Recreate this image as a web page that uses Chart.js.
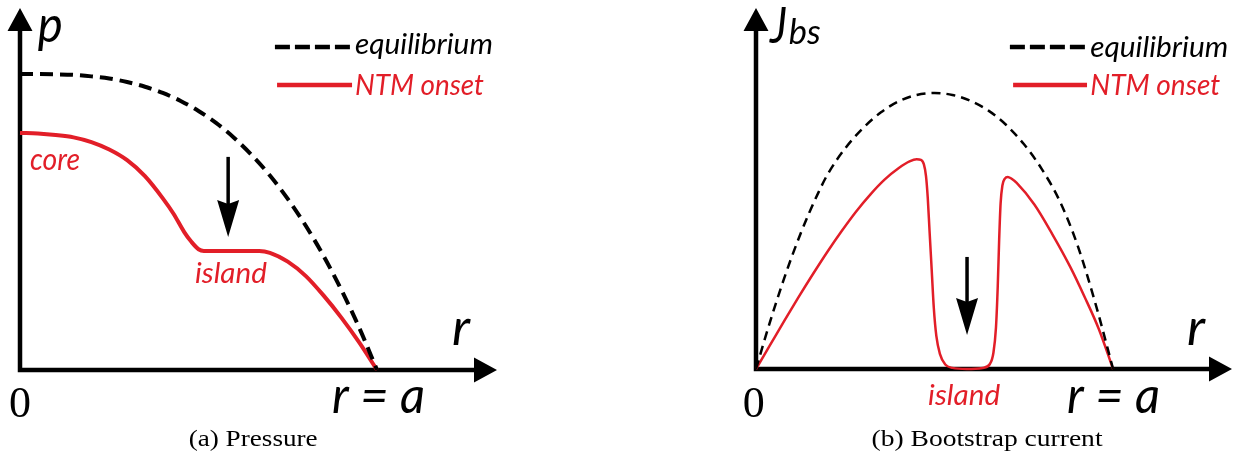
<!DOCTYPE html>
<html>
<head>
<meta charset="utf-8">
<script src="https://cdn.jsdelivr.net/npm/chart.js@4.4.1/dist/chart.umd.min.js"></script>
<style>
  body { margin: 0; background: #fff; }
  .panel { position: absolute; top: 0; width: 621px; height: 456px; }
</style>
</head>
<body>
<div class="panel" style="left:0"><canvas id="pressureChart"></canvas></div>
<div class="panel" style="left:621px"><canvas id="bootstrapChart"></canvas></div>
<script>
// Perfis radiais normalizados (r/a) - pressão e corrente de bootstrap
const RED = "#e21e28"

// (a) pressão
const pEqR = [0, 0.05, 0.1, 0.15, 0.2, 0.25, 0.3, 0.35, 0.4, 0.45, 0.5, 0.55, 0.6, 0.65, 0.7, 0.75, 0.8, 0.85, 0.9, 0.95, 1.0]
const pEq = [1.0, 1.0, 0.999, 0.997, 0.992, 0.985, 0.973, 0.957, 0.936, 0.909, 0.875, 0.834, 0.784, 0.725, 0.657,
  0.578, 0.488, 0.386, 0.271, 0.143, 0]
const pNtmR = [0, 0.05, 0.1, 0.15, 0.2, 0.25, 0.3, 0.35, 0.4, 0.43, 0.46, 0.48, 0.5, 0.515, 0.67, 0.7, 0.75, 0.8,
  0.85, 0.9, 0.95, 1.0]
const pNtm = [0.801, 0.799, 0.794, 0.786, 0.77, 0.745, 0.709, 0.655, 0.58, 0.528, 0.466, 0.433, 0.408, 0.402, 0.402,
  0.396, 0.366, 0.318, 0.252, 0.177, 0.093, 0]

// (b) corrente de bootstrap
const jEqR = [0, 0.025, 0.05, 0.075, 0.1, 0.125, 0.15, 0.175, 0.2, 0.25, 0.3, 0.35, 0.4, 0.45, 0.5, 0.55, 0.6, 0.65,
  0.7, 0.75, 0.8, 0.85, 0.9, 0.95, 1.0]
const jEq = [0, 0.11, 0.215, 0.314, 0.406, 0.491, 0.569, 0.64, 0.704, 0.8, 0.873, 0.93, 0.97, 0.993, 1.0, 0.993,
  0.972, 0.937, 0.885, 0.815, 0.725, 0.61, 0.45, 0.24, 0]
const jNtmR = [0, 0.04, 0.08, 0.12, 0.16, 0.2, 0.24, 0.28, 0.32, 0.36, 0.4, 0.43, 0.45, 0.462, 0.47, 0.476, 0.481,
  0.486, 0.492, 0.498, 0.505, 0.515, 0.53, 0.55, 0.59, 0.635, 0.655, 0.665, 0.672, 0.677, 0.681, 0.685, 0.69,
  0.697, 0.705, 0.715, 0.73, 0.78, 0.83, 0.88, 0.92, 0.96, 1.0]
const jNtm = [0, 0.088, 0.176, 0.262, 0.345, 0.425, 0.5, 0.57, 0.632, 0.686, 0.728, 0.752, 0.76, 0.758, 0.742,
  0.7, 0.62, 0.5, 0.36, 0.22, 0.12, 0.055, 0.016, 0.004, 0, 0.004, 0.018, 0.06, 0.15, 0.3, 0.47, 0.6, 0.665,
  0.69, 0.696, 0.69, 0.674, 0.595, 0.488, 0.37, 0.262, 0.145, 0]

const seriesLabels = ["equilibrium", "NTM onset"]

const toPoints = (xs, ys) => xs.map((x, i) => ({ x: x, y: ys[i] }))

const LABEL = "italic 50px Lato"

// eixos com setas, seta indicativa, textos e legenda desenhados à mão
const sketchPlugin = {
  id: "sketch",
  beforeDatasetsDraw(chart, args, opts) {
    const { ctx, chartArea, scales } = chart
    const x0 = scales.x.getPixelForValue(0)
    const y0 = scales.y.getPixelForValue(0)
    const top = chartArea.top
    const right = chartArea.right
    ctx.save()
    ctx.strokeStyle = "#000"
    ctx.fillStyle = "#000"
    ctx.lineWidth = 4.5
    ctx.beginPath()
    ctx.moveTo(x0, y0 + 2.25)
    ctx.lineTo(x0, top + 20)
    ctx.moveTo(x0 - 2.25, y0)
    ctx.lineTo(right - 20, y0)
    ctx.stroke()
    ctx.beginPath()
    ctx.moveTo(x0, top)
    ctx.lineTo(x0 - 12.5, top + 23)
    ctx.lineTo(x0 + 12.5, top + 23)
    ctx.closePath()
    ctx.moveTo(right, y0)
    ctx.lineTo(right - 23, y0 - 12.5)
    ctx.lineTo(right - 23, y0 + 12.5)
    ctx.closePath()
    ctx.fill()
    ctx.restore()
  },
  afterDatasetsDraw(chart, args, opts) {
    const { ctx, scales } = chart
    const px = (v) => scales.x.getPixelForValue(v)
    const py = (v) => scales.y.getPixelForValue(v)

    // seta para baixo
    const a = opts.arrow
    const ax = px(a.x)
    const ay1 = py(a.from)
    const ay2 = py(a.to)
    ctx.save()
    ctx.strokeStyle = "#000"
    ctx.fillStyle = "#000"
    ctx.lineWidth = 3.5
    ctx.beginPath()
    ctx.moveTo(ax, ay1)
    ctx.lineTo(ax, ay2 - 30)
    ctx.stroke()
    ctx.beginPath()
    ctx.moveTo(ax, ay2)
    ctx.lineTo(ax - 11, ay2 - 37)
    ctx.lineTo(ax, ay2 - 33)
    ctx.lineTo(ax + 11, ay2 - 37)
    ctx.closePath()
    ctx.fill()
    ctx.restore()

    // legenda
    opts.legend.forEach((item) => {
      const ds = chart.data.datasets[item.dataset]
      ctx.save()
      ctx.strokeStyle = ds.borderColor
      ctx.lineWidth = 4.5
      ctx.setLineDash(ds.borderDash && ds.borderDash.length ? [15, 5] : [])
      ctx.beginPath()
      ctx.moveTo(px(item.x1), py(item.y))
      ctx.lineTo(px(item.x2), py(item.y))
      ctx.stroke()
      ctx.restore()
      drawText(ctx, { text: ds.label, font: "italic 28px Lato", color: item.color, width: item.width },
        px(item.tx), py(item.ty))
    })

    opts.texts.forEach((t) => drawText(ctx, t, px(t.x), py(t.y)))
  },
}

function drawText(ctx, t, x, y) {
  ctx.save()
  ctx.font = t.font
  ctx.fillStyle = t.color || "#000"
  ctx.textBaseline = "alphabetic"
  const w = ctx.measureText(t.text).width
  const target = t.width || w
  const left = t.align === "center" ? x - target / 2 : x
  ctx.translate(left, y)
  ctx.scale(target / w, 1)
  ctx.fillText(t.text, 0, 0)
  ctx.restore()
}

function makeChart(id, cfg) {
  return new Chart(document.getElementById(id), {
    type: "line",
    data: {
      datasets: [
        {
          label: seriesLabels[0],
          data: cfg.eq,
          borderColor: "#000",
          borderWidth: cfg.lineWidth,
          borderDash: cfg.dash,
          pointRadius: 0,
          cubicInterpolationMode: "monotone",
          clip: false,
        },
        {
          label: seriesLabels[1],
          data: cfg.ntm,
          borderColor: RED,
          borderWidth: cfg.lineWidth,
          pointRadius: 0,
          cubicInterpolationMode: "monotone",
          clip: false,
        },
      ],
    },
    options: {
      responsive: true,
      maintainAspectRatio: false,
      animation: false,
      layout: { padding: cfg.padding },
      scales: {
        x: { type: "linear", display: false, min: 0, max: cfg.xMax },
        y: { type: "linear", display: false, min: 0, max: cfg.yMax },
      },
      plugins: {
        legend: { display: false },
        tooltip: { enabled: false },
        sketch: cfg.sketch,
      },
    },
    plugins: [sketchPlugin],
  })
}

makeChart("pressureChart", {
  eq: toPoints(pEqR, pEq),
  ntm: toPoints(pNtmR, pNtm),
  lineWidth: 4,
  dash: [13, 7],
  padding: { left: 20, right: 124, top: 8, bottom: 86 },
  xMax: 1.336,
  yMax: 1.223,
  sketch: {
    arrow: { x: 0.583, from: 0.72, to: 0.449 },
    legend: [
      { dataset: 0, x1: 0.714, x2: 0.924, y: 1.091, tx: 0.938, ty: 1.068, width: 138, color: "#000" },
      { dataset: 1, x1: 0.72, x2: 0.93, y: 0.963, tx: 0.938, ty: 0.929, width: 129, color: RED },
    ],
    texts: [
      { text: "p", x: 0.05, y: 1.108, font: LABEL, width: 25 },
      { text: "core", x: 0.028, y: 0.676, font: "italic 30px Lato", color: RED, width: 50 },
      { text: "island", x: 0.49, y: 0.294, font: "italic 29px Lato", color: RED, width: 72 },
      { text: "r", x: 1.21, y: 0.084, font: LABEL, width: 18 },
      { text: "0", x: 0, y: -0.159, font: "44px 'Liberation Serif'", align: "center" },
      { text: "r = a", x: 0.874, y: -0.145, font: LABEL, width: 93 },
      { text: "(a) Pressure", x: 0.653, y: -0.257, font: "23px 'Liberation Serif'", align: "center", width: 129 },
    ],
  },
})

makeChart("bootstrapChart", {
  eq: toPoints(jEqR, jEq),
  ntm: toPoints(jNtmR, jNtm),
  lineWidth: 2.5,
  dash: [9, 6],
  padding: { left: 135, right: 10, top: 8, bottom: 87 },
  xMax: 1.333,
  yMax: 1.308,
  sketch: {
    arrow: { x: 0.591, from: 0.406, to: 0.123 },
    legend: [
      { dataset: 0, x1: 0.711, x2: 0.922, y: 1.167, tx: 0.936, ty: 1.13, width: 138, color: "#000" },
      { dataset: 1, x1: 0.72, x2: 0.927, y: 1.029, tx: 0.936, ty: 0.993, width: 130, color: RED },
    ],
    texts: [
      { text: "J", x: 0.039, y: 1.181, font: LABEL, width: 17 },
      { text: "bs", x: 0.092, y: 1.178, font: "italic 34px Lato", width: 32 },
      { text: "island", x: 0.482, y: -0.13, font: "italic 29px Lato", color: RED, width: 72 },
      { text: "r", x: 1.207, y: 0.087, font: LABEL, width: 18 },
      { text: "0", x: -0.006, y: -0.174, font: "44px 'Liberation Serif'", align: "center" },
      { text: "r = a", x: 0.871, y: -0.159, font: LABEL, width: 93 },
      { text: "(b) Bootstrap current", x: 0.647, y: -0.279, font: "23px 'Liberation Serif'", align: "center", width: 231 },
    ],
  },
})
</script>
</body>
</html>
